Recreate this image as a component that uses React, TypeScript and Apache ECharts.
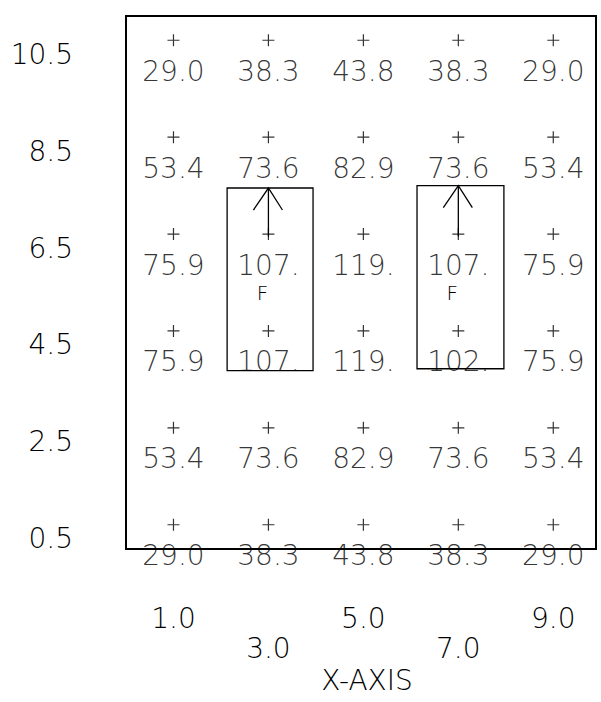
import React, { useEffect, useRef } from "react";
import * as echarts from "echarts";

// ---- data ----
const xCols = [1, 3, 5, 7, 9];
const yRows = [0.5, 2.5, 4.5, 6.5, 8.5, 10.5];
const row05 = [29.0, 38.3, 43.8, 38.3, 29.0];
const row25 = [53.4, 73.6, 82.9, 73.6, 53.4];
const row45 = [75.9, 107, 119, 102, 75.9];
const row65 = [75.9, 107, 119, 107, 75.9];
const row85 = [53.4, 73.6, 82.9, 73.6, 53.4];
const row105 = [29.0, 38.3, 43.8, 38.3, 29.0];
const rowValues = [row05, row25, row45, row65, row85, row105];

const yTickValues = [0.5, 2.5, 4.5, 6.5, 8.5, 10.5];
const xTickRow1 = [1, 5, 9];
const xTickRow2 = [3, 7];

// boxes: [x0, y0, x1, y1]
const boxes = [
  [2.13, 3.68, 3.94, 7.45],
  [6.13, 3.72, 7.96, 7.5],
];
// arrows: [x, yFrom, yTo]
const arrows = [
  [3, 6.45, 7.45],
  [7, 6.45, 7.5],
];
// flag labels
const flags = [
  [3, 5.5, "F"],
  [7, 5.5, "F"],
];

const FONT = "DejaVu Sans";
const INK = "#000";

function fmt(v: number): string {
  return v >= 100 ? `${Math.floor(v)}.` : v.toFixed(1);
}

export default function App() {
  const ref = useRef<HTMLDivElement>(null);

  useEffect(() => {
    if (!ref.current) return;
    const chart = echarts.init(ref.current, undefined, { renderer: "svg" });

    const points: any[] = [];
    yRows.forEach((y, ri) => {
      xCols.forEach((x, ci) => {
        points.push([x, y, rowValues[ri][ci]]);
      });
    });

    const textStyle = {
      fontFamily: FONT,
      fontSize: 28,
      fontWeight: 200 as any,
      color: INK,
      lineHeight: 28,
      textBorderWidth: 0,
    };

    chart.setOption({
      animation: false,
      backgroundColor: "#fff",
      grid: {
        left: 126,
        top: 16,
        width: 470,
        height: 533,
        show: true,
        borderColor: INK,
        borderWidth: 2,
        outerBoundsMode: "none",
      },
      xAxis: [
        {
          type: "value",
          min: 0,
          max: 9.9,
          position: "bottom",
          axisLine: { show: true, onZero: false, lineStyle: { color: INK, width: 2 } },
          axisTick: { show: false },
          splitLine: { show: false },
          axisLabel: {
            ...textStyle,
            customValues: xTickRow1,
            margin: 55,
            formatter: (v: number) => v.toFixed(1),
          },
          name: "X-AXIS",
          nameLocation: "middle",
          nameGap: 117,
          nameTextStyle: { ...textStyle, padding: [0, 0, 0, 12] },
        },
        {
          type: "value",
          min: 0,
          max: 9.9,
          position: "bottom",
          axisLine: { show: false },
          axisTick: { show: false },
          splitLine: { show: false },
          axisLabel: {
            ...textStyle,
            customValues: xTickRow2,
            margin: 85,
            formatter: (v: number) => v.toFixed(1),
          },
        },
      ],
      yAxis: {
        type: "value",
        min: 0,
        max: 11,
        axisLine: { show: true, onZero: false, lineStyle: { color: INK, width: 2 } },
        axisTick: { show: false },
        splitLine: { show: false },
        axisLabel: {
          ...textStyle,
          customValues: yTickValues,
          margin: 53,
          formatter: (v: number) => "\n" + v.toFixed(1),
        },
      },
      series: [
        {
          type: "scatter",
          data: points,
          symbol: "path://M6,0 L6,12 M0,6 L12,6",
          symbolSize: 12,
          itemStyle: { color: "none", borderColor: INK, borderWidth: 1.2 },
          label: {
            show: true,
            position: "inside",
            offset: [0, 31],
            ...textStyle,
            lineHeight: 22,
            formatter: (p: any) => fmt(p.value[2]),
          },
          z: 3,
        },
        {
          type: "custom",
          data: boxes,
          renderItem: (params: any, api: any) => {
            const p0 = api.coord([api.value(0), api.value(3)]);
            const p1 = api.coord([api.value(2), api.value(1)]);
            return {
              type: "rect",
              shape: { x: p0[0], y: p0[1], width: p1[0] - p0[0], height: p1[1] - p0[1] },
              style: { fill: "none", stroke: INK, lineWidth: 1.3 },
            };
          },
          z: 2,
        },
        {
          type: "custom",
          data: arrows,
          renderItem: (params: any, api: any) => {
            const a = api.coord([api.value(0), api.value(1)]);
            const b = api.coord([api.value(0), api.value(2)]);
            return {
              type: "group",
              children: [
                {
                  type: "line",
                  shape: { x1: a[0], y1: a[1], x2: b[0], y2: b[1] },
                  style: { stroke: INK, lineWidth: 1.3 },
                },
                {
                  type: "polyline",
                  shape: {
                    points: [
                      [b[0] - 15, b[1] + 22],
                      [b[0], b[1]],
                      [b[0] + 14, b[1] + 22],
                    ],
                  },
                  style: { stroke: INK, lineWidth: 1.3, fill: "none" },
                },
              ],
            };
          },
          z: 2,
        },
        {
          type: "custom",
          data: flags,
          renderItem: (params: any, api: any) => {
            const p = api.coord([api.value(0), api.value(1)]);
            return {
              type: "text",
              x: p[0] - 6,
              y: p[1] + 10,
              style: {
                text: flags[params.dataIndex][2] as string,
                fontFamily: FONT,
                fontSize: 20,
                fontWeight: 200,
                lineHeight: 16,
                fill: INK,
                align: "center",
                verticalAlign: "middle",
              },
            };
          },
          z: 2,
        },
      ],
    });

    return () => chart.dispose();
  }, []);

  return (
    <div
      ref={ref}
      style={{ position: "fixed", left: 0, top: 0, width: 601, height: 702, background: "#fff" }}
    />
  );
}
